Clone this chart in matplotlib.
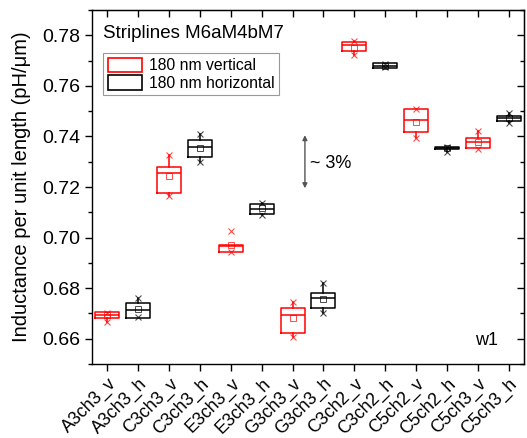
import matplotlib
matplotlib.use("Agg")
import matplotlib.pyplot as plt
from matplotlib.patches import Patch
from matplotlib.ticker import MultipleLocator

plt.rcParams['font.family'] = ['Liberation Sans', 'DejaVu Sans']

labels = ['A3ch3_v', 'A3ch3_h', 'C3ch3_v', 'C3ch3_h', 'E3ch3_v', 'E3ch3_h', 'G3ch3_v',
          'G3ch3_h', 'C3ch2_v', 'C3ch2_h', 'C5ch2_v', 'C5ch2_h', 'C5ch3_v', 'C5ch3_h']
q1 = [0.6682, 0.6682, 0.7177, 0.7318, 0.6942, 0.7095, 0.6624,
      0.6722, 0.7739, 0.7671, 0.7416, 0.7349, 0.7355, 0.7462]
q3 = [0.6704, 0.6742, 0.7280, 0.7386, 0.6969, 0.7131, 0.6722,
      0.6780, 0.7775, 0.7690, 0.7509, 0.7359, 0.7392, 0.7481]
med = [0.6694, 0.6712, 0.7256, 0.7358, 0.6965, 0.7113, 0.6692,
       0.6761, 0.7762, 0.7680, 0.7465, 0.7354, 0.7379, 0.7472]
mean = [0.6694, 0.6717, 0.7244, 0.7355, 0.6971, 0.7115, 0.6681,
        0.6757, 0.7750, 0.7680, 0.7457, 0.7354, 0.7379, 0.7472]
vmax = [0.6703, 0.6761, 0.7326, 0.7410, 0.7026, 0.7137, 0.6744,
        0.6821, 0.7776, 0.7686, 0.7509, 0.7357, 0.7421, 0.7492]
vmin = [0.6667, 0.6685, 0.7164, 0.7298, 0.6943, 0.7091, 0.6608,
        0.6702, 0.7723, 0.7674, 0.7392, 0.7339, 0.7350, 0.7452]
whis_hi = [0.6704, 0.6761, 0.7326, 0.7410, 0.6969, 0.7137, 0.6744,
           0.6821, 0.7776, 0.7690, 0.7509, 0.7359, 0.7421, 0.7492]
whis_lo = [0.6667, 0.6682, 0.7164, 0.7298, 0.6942, 0.7091, 0.6608,
           0.6702, 0.7723, 0.7671, 0.7392, 0.7339, 0.7355, 0.7452]

fig = plt.figure(figsize=(5.27, 4.38), dpi=100)
ax = fig.add_axes([92/527, 1-364/438, 432/527, 354/438])

pos = list(range(1, len(labels) + 1))
for i, p in enumerate(pos):
    c = 'red' if labels[i].endswith('_v') else 'black'
    st = [dict(med=med[i], q1=q1[i], q3=q3[i], whislo=whis_lo[i], whishi=whis_hi[i],
               mean=mean[i], fliers=[])]
    ax.bxp(st, positions=[p], widths=0.78, showmeans=True, showcaps=False,
           boxprops=dict(color=c, lw=1.1),
           medianprops=dict(color=c, lw=1.1),
           whiskerprops=dict(color=c, lw=1.1),
           meanprops=dict(marker='s', markerfacecolor='none', markeredgecolor=c,
                          markersize=4, markeredgewidth=0.7, alpha=0.7))
    # min / max markers
    ax.plot([p, p], [vmin[i], vmax[i]], ls='none', marker='x', color=c,
            markersize=5, markeredgewidth=0.8, alpha=0.7)

ax.set_xlim(0.5, len(labels) + 0.5)
ax.set_ylim(0.65, 0.79)
ax.set_xticks(pos)
ax.set_xticklabels(labels, rotation=45, ha='right', rotation_mode='anchor', fontsize=12.8)
ax.yaxis.set_major_locator(MultipleLocator(0.02))
ax.yaxis.set_minor_locator(MultipleLocator(0.01))
ax.yaxis.set_major_formatter(matplotlib.ticker.FormatStrFormatter('%.2f'))
ax.tick_params(axis='y', which='major', direction='out', length=5, width=1, labelsize=14)
ax.tick_params(axis='y', which='minor', direction='out', length=3, width=1)
ax.tick_params(axis='x', direction='out', length=5, width=1, pad=3)
for s in ax.spines.values():
    s.set_linewidth(1.0)

# mirrored ticks pointing inward on top and right
top = ax.secondary_xaxis('top')
top.set_xticks(pos)
top.set_xticklabels([])
top.tick_params(direction='in', length=5, width=1)
right = ax.secondary_yaxis('right')
right.yaxis.set_major_locator(MultipleLocator(0.02))
right.yaxis.set_minor_locator(MultipleLocator(0.01))
right.set_yticklabels([])
right.tick_params(which='major', direction='in', length=5, width=1)
right.tick_params(which='minor', direction='in', length=3, width=1)

ax.set_ylabel('Inductance per unit length (pH/μm)', fontsize=14.5, labelpad=8)

ax.text(0.025, 0.935, 'Striplines M6aM4bM7', transform=ax.transAxes, fontsize=13.5,
        va='center', ha='left')
handles = [Patch(facecolor='white', edgecolor='red', lw=1.2, label='180 nm vertical'),
           Patch(facecolor='white', edgecolor='black', lw=1.2, label='180 nm horizontal')]
leg = ax.legend(handles=handles, loc='upper left', bbox_to_anchor=(0.0255, 0.879),
                borderaxespad=0, fontsize=11.3, frameon=True, fancybox=False,
                handlelength=2.2, handleheight=1.05, labelspacing=0.12,
                borderpad=0.3, handletextpad=0.4)
leg.get_frame().set_edgecolor('gray')
leg.get_frame().set_linewidth(0.8)

ax.annotate('', xy=(7.4, 0.7195), xytext=(7.4, 0.7405),
            arrowprops=dict(arrowstyle='<|-|>', color='#555555', lw=1, mutation_scale=7,
                            shrinkA=0, shrinkB=0))
ax.text(7.58, 0.7294, '~ 3%', fontsize=13, va='center', ha='left')
ax.text(0.914, 0.065, 'w1', transform=ax.transAxes, fontsize=13, va='center', ha='center')

fig.savefig('out.png', dpi=100)
